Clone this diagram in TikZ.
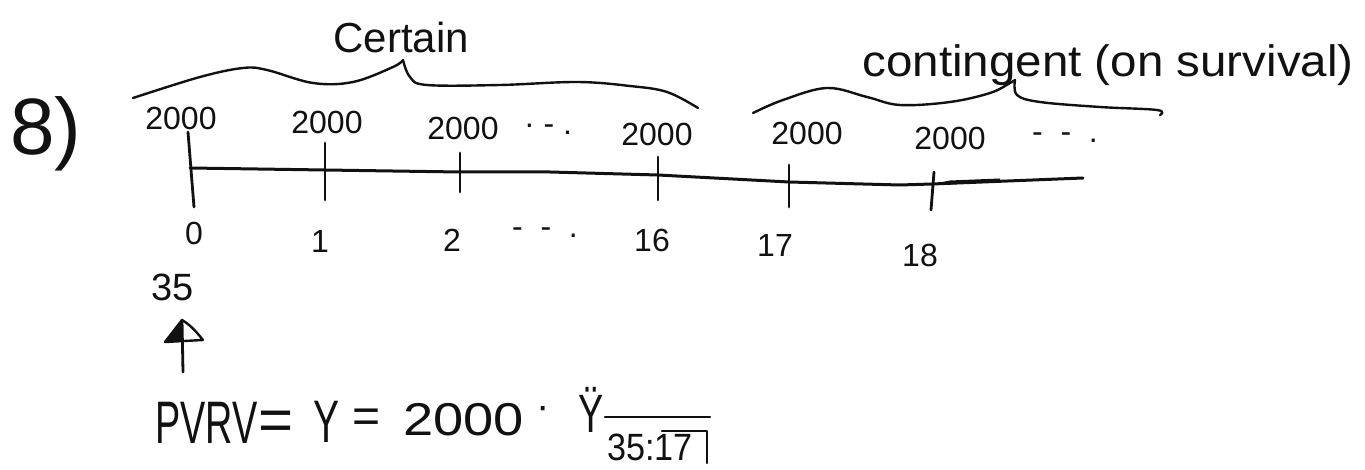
\documentclass[tikz,border=0pt]{standalone}
\usepackage{fontspec}
\setmainfont{Liberation Sans}
\newcommand\sqz[2]{\scalebox{#1}[1]{#2}}
\newcommand\fs[1]{\fontsize{#1}{#1}\selectfont}
\definecolor{ink}{HTML}{111111}
\begin{document}
\begin{tikzpicture}[x=0.5pt,y=-0.5pt,
  txt/.style={inner sep=0pt,text=ink},
  amt/.style={txt,font=\fs{16}},
  yr/.style={txt,font=\fs{16}},
  axis/.style={draw=ink,line width=1.5pt,line cap=round,line join=round},
  tick/.style={draw=ink,line width=1.4pt,line cap=round},
  brace/.style={draw=ink,line width=1.2pt,line cap=round,line join=round},
  pen/.style={draw=ink,line width=1.2pt,line cap=round}]
\useasboundingbox (0,0) rectangle (1365,470);

% problem number
\node[txt,anchor=base west,font=\fs{40}] (num) at (10,155) {8)};

% time line points
\coordinate (t0) at (190,168);
\coordinate (t1) at (325,170);
\coordinate (t2) at (460,172);
\coordinate (t16) at (658,175);
\coordinate (t17) at (789,182);
\coordinate (t18) at (932,184);
\coordinate (tend) at (1083,178);
\draw[axis] (t0) -- (t1) -- (t2) -- (550,172) -- (t16) -- (t17) -- (900,185) -- (t18) -- (tend);
% heavier stroke just after 18
\fill[ink] (t18) -- (950,180.5) -- (1000,178.5) -- (1000,181) -- (950,184.5) -- cycle;

% ticks
\coordinate (a0) at (188,132); \coordinate (b0) at (194,207);
\coordinate (a1) at (325,143); \coordinate (b1) at (325,200);
\coordinate (a2) at (460,153); \coordinate (b2) at (460,192);
\coordinate (a16) at (658,157); \coordinate (b16) at (658,200);
\coordinate (a17) at (789,165); \coordinate (b17) at (789,207);
\coordinate (a18) at (934,172); \coordinate (b18) at (931,210);
\foreach \k in {0,1,2,16,17,18} \draw[tick] (a\k) -- (b\k);

% payments
\node[amt] (p0) at (181,118) {2000};
\node[amt] (p1) at (327,122) {2000};
\node[amt] (p2) at (463,128) {2000};
\node[amt] (pd) at (548,129) {· - .};
\node[amt] (p16) at (657,134) {2000};
\node[amt] (p17) at (807,133) {2000};
\node[amt] (p18) at (950,138) {2000};
\node[amt] (pe) at (1065,138) {-\ \ -\ \ .};

% times
\node[yr] (y0) at (194,233) {0};
\node[yr] (y1) at (320,241) {1};
\node[yr] (y2) at (452,240) {2};
\node[yr] (yd) at (545,233) {-\ \ -\ \ .};
\node[yr] (y16) at (652,240) {16};
\node[yr] (y17) at (775,245) {17};
\node[yr] (y18) at (920,255) {18};

% age at time 0
\node[txt,font=\fs{19}] (age) at (173,287) {35};

% braces
\draw[brace] plot[smooth,tension=0.6] coordinates {(133,98) (200,77) (243,68) (267,70) (313,83) (353,82) (393,67) (403,60)};
\draw[brace] plot[smooth,tension=0.6] coordinates {(403,60) (410,77) (427,85) (500,85) (577,82) (630,86) (667,92) (698,108)};
\draw[brace] plot[smooth,tension=0.6] coordinates {(753,113) (783,100) (827,88) (867,97) (900,105) (950,102) (990,93) (1010,83) (1015,80)};
\draw[brace] plot[smooth,tension=0.6] coordinates {(1015,80) (1017,95) (1040,102) (1100,107) (1157,110) (1160,115)};
\node[txt,anchor=base west,font=\fs{21}] (cert) at (333,53) {Certain};
\node[txt,anchor=base west,font=\fs{22}] (cont) at (862,77) {\sqz{1.08}{contingent (on survival)}};

% arrow pointing to age 35
\coordinate (af) at (183,372);
\coordinate (at) at (182,320);
\draw[pen,line width=1.4pt] (af) -- (at);
\fill[ink] (at) -- (165,342) -- (182,341) -- cycle;
\draw[pen,line join=round] (165,342) -- (at) .. controls (192,326) and (198,334) .. (203,340) -- (165,342);

% value formula
\node[txt,anchor=base west,font=\fs{30}] (pv) at (155,443) {\sqz{0.63}{PVRV}};
\node[txt,font=\fs{30}] (eq1) at (276,426) {=};
\node[txt,anchor=base west,font=\fs{30}] (yy) at (313,442) {\sqz{0.65}{Y}};
\node[txt,font=\fs{24}] (eq2) at (367,421) {=};
\node[txt,anchor=base west,font=\fs{23}] (amt) at (403,435) {\sqz{1.18}{2000}};
\node[txt,font=\fs{20}] (dot) at (543,413) {·};
\node[txt,anchor=base west,font=\fs{27}] (ann) at (578,432) {\sqz{0.7}{Ÿ}};
\node[txt,anchor=base west,font=\fs{19}] (sub) at (607,460) {\sqz{0.9}{35:17}};
\coordinate (ov1) at (605,417); \coordinate (ov2) at (710,417);
\draw[pen] (ov1) -- (ov2);
\coordinate (br1) at (662,431); \coordinate (br2) at (707,431); \coordinate (br3) at (707,463);
\draw[pen,line join=round] (br1) -- (br2) -- (br3);
\end{tikzpicture}
\end{document}
